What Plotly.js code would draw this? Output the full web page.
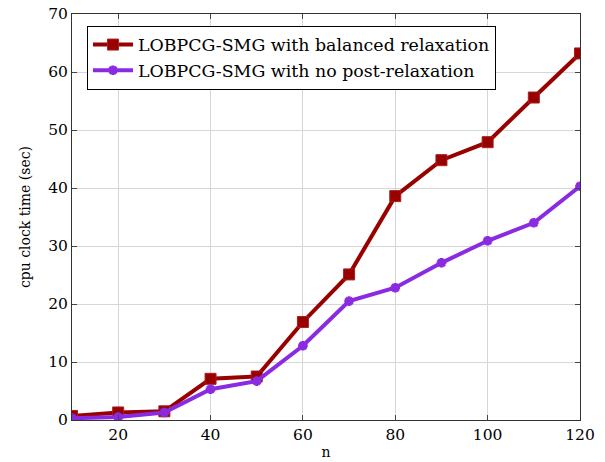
<!DOCTYPE html>
<html>
<head>
<meta charset="utf-8">
<script src="https://cdn.plot.ly/plotly-3.0.1.min.js"></script>
<style>html,body{margin:0;padding:0;background:#fff;}#chart{width:605px;height:462px;}</style>
</head>
<body>
<div id="chart"></div>
<script>
const n = [10, 20, 30, 40, 50, 60, 70, 80, 90, 100, 110, 120];
const balanced = [0.7, 1.3, 1.5, 7.1, 7.5, 16.9, 25.1, 38.6, 44.8, 47.9, 55.6, 63.2];
const noPost = [0.3, 0.5, 1.3, 5.3, 6.7, 12.8, 20.5, 22.8, 27.1, 30.9, 34.0, 40.3];
const seriesNames = ["LOBPCG-SMG with balanced relaxation", "LOBPCG-SMG with no post-relaxation"];
const xTicks = [20, 40, 60, 80, 100, 120];
const yTicks = [0, 10, 20, 30, 40, 50, 60, 70];

const fam = "DejaVu Serif";
const tickFont = {family: fam, size: 15.5, color: "#000"};
const titleFont = {family: fam, size: 14, color: "#000"};

const traces = [
  {x: n, y: balanced, name: seriesNames[0], type: "scatter", mode: "lines+markers",
   line: {color: "#990000", width: 4},
   marker: {symbol: "square", size: 11, color: "#990000", line: {color: "#a82020", width: 1}}},
  {x: n, y: noPost, name: seriesNames[1], type: "scatter", mode: "lines+markers",
   line: {color: "#8a2be2", width: 4},
   marker: {symbol: "asterisk", size: 8, color: "#8a2be2", line: {color: "#8a2be2", width: 3}}}
];

const axisCommon = {
  showline: true, linecolor: "#333", linewidth: 1, mirror: "ticks",
  ticks: "inside", ticklen: 5, tickcolor: "#444",
  showgrid: true, gridcolor: "#d6d6d6", gridwidth: 1,
  zeroline: false, tickfont: tickFont
};

const layout = {
  width: 605, height: 462,
  margin: {l: 72, r: 25, t: 14, b: 42},
  paper_bgcolor: "#fff", plot_bgcolor: "#fff",
  font: tickFont,
  showlegend: true,
  legend: {x: 0.0295, y: 0.971, xanchor: "left", yanchor: "top",
           bgcolor: "#fff", bordercolor: "#000", borderwidth: 1,
           font: {family: fam, size: 17.4, color: "#000"}, tracegroupgap: 0, itemwidth: 40},
  xaxis: Object.assign({}, axisCommon, {range: [10, 120], tickvals: xTicks,
          title: {text: "n", font: titleFont, standoff: 4}}),
  yaxis: Object.assign({}, axisCommon, {range: [0, 70], tickvals: yTicks,
          title: {text: "cpu clock time (sec)", font: titleFont, standoff: 14}})
};

Plotly.newPlot("chart", traces, layout, {displayModeBar: false, staticPlot: true});
</script>
</body>
</html>
